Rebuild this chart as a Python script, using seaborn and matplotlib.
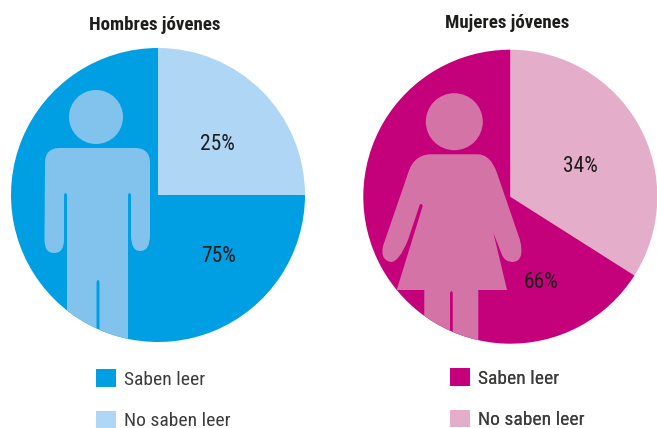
import seaborn as sns
import matplotlib.pyplot as plt
from matplotlib.patches import Circle, PathPatch, Patch
from matplotlib.path import Path

# Data
groups = ['Hombres jóvenes', 'Mujeres jóvenes']
labels = ['No saben leer', 'Saben leer']
hombres = [25, 75]
mujeres = [34, 66]

blue = sns.color_palette(['#AFD6F5', '#009FE3'])
pink = sns.color_palette(['#E4AECB', '#C4007A'])
ink = '#1D1D1B'

sns.set_theme(style='white')
plt.rcParams['font.family'] = ['Roboto Condensed', 'Liberation Sans', 'DejaVu Sans']


def icon_path(cmds):
    verts, codes = [], []
    for c in cmds:
        if c[0] == 'M':
            verts.append(c[1]); codes.append(Path.MOVETO)
        elif c[0] == 'L':
            verts.append(c[1]); codes.append(Path.LINETO)
        else:
            verts += [c[1], c[2]]; codes += [Path.CURVE3, Path.CURVE3]
    verts.append(verts[0]); codes.append(Path.CLOSEPOLY)
    return Path(verts, codes)


# Silhouettes, in pixels of the picture
man = [('M', (45, 163)), ('Q', (45, 148), (60, 148)), ('L', (135, 148)), ('Q', (150, 148), (150, 163)),
       ('L', (150, 235)), ('Q', (150, 251), (140, 251)), ('Q', (131, 251), (131, 235)), ('L', (131, 196)),
       ('Q', (131, 193), (129.5, 193)), ('Q', (128, 193), (128, 196)), ('L', (128, 345)), ('L', (99.5, 345)),
       ('L', (99.5, 283)), ('Q', (99.5, 280), (98, 280)), ('Q', (96.5, 280), (96.5, 283)), ('L', (96.5, 345)),
       ('L', (67, 345)), ('L', (67, 196)), ('Q', (67, 193), (65.5, 193)), ('Q', (64, 193), (64, 196)),
       ('L', (64, 240)), ('Q', (64, 253), (54, 253)), ('Q', (44.5, 253), (44.5, 240))]

woman = [('M', (430, 154.3)), ('L', (478, 154.3)), ('Q', (491, 155), (497, 173)), ('L', (520, 240)),
         ('Q', (525, 261), (513, 262)), ('Q', (505, 262), (502, 255)), ('L', (483, 206)),
         ('Q', (483.5, 203), (485, 203.5)), ('Q', (486.5, 204), (487, 206)), ('L', (507, 290)), ('L', (478.3, 290)),
         ('L', (478.3, 345)), ('L', (452.8, 345)), ('L', (452.8, 293)), ('Q', (451.4, 289), (450, 293)),
         ('L', (450, 345)), ('L', (424.3, 345)), ('L', (424.3, 290)), ('L', (396.7, 290)), ('L', (422.7, 206)),
         ('Q', (422.5, 204), (421, 204)), ('Q', (419.5, 204), (419, 207)), ('L', (408, 240)),
         ('Q', (399, 262), (391, 262)), ('Q', (380, 260), (383, 246)), ('L', (408.5, 172)),
         ('Q', (414, 155), (430, 154.3))]

fig = plt.figure(figsize=(6.57, 4.28), dpi=100)
ax = fig.add_axes([0, 0, 1, 1])

charts = [
    dict(vals=hombres, cols=blue, c=(158, 195), icon=man, head=(96, 117, 27), icol='#82C3EE',
         title=(155, 25), pct=[(217.5, 144), (219, 256)], leg=(96, 369)),
    dict(vals=mujeres, cols=pink, c=(510.3, 196.7), icon=woman, head=(454.3, 121.7, 28.5), icol='#D474A6',
         title=(506.7, 23), pct=[(580, 166), (540.7, 282)], leg=(450, 368)),
]

for name, ch in zip(groups, charts):
    # y axis runs downwards, so -90 is the top and ccw shows as clockwise
    wedges, _ = ax.pie(ch['vals'], colors=ch['cols'], center=ch['c'], radius=147, startangle=-90,
                       counterclock=True, wedgeprops={'linewidth': 0})
    clip = Circle(ch['c'], 147, transform=ax.transData)
    body = PathPatch(icon_path(ch['icon']), fc=ch['icol'], lw=0, zorder=2)
    ax.add_patch(body)
    body.set_clip_path(clip)
    hx, hy, hr = ch['head']
    ax.add_patch(Circle((hx, hy), hr, fc=ch['icol'], lw=0, zorder=2))

    ax.text(*ch['title'], name, ha='center', va='center', fontsize=13.6, fontweight='bold', color=ink, zorder=3)
    for v, pos in zip(ch['vals'], ch['pct']):
        ax.text(*pos, f'{v}%', ha='center', va='center', fontsize=15.5, color=ink, zorder=3)

    handles = [Patch(fc=ch['cols'][1], lw=0), Patch(fc=ch['cols'][0], lw=0)]
    leg = ax.legend(handles, [labels[1], labels[0]], loc='upper left', bbox_to_anchor=ch['leg'],
                    bbox_transform=ax.transData, frameon=False, fontsize=14, borderpad=0, borderaxespad=0,
                    handlelength=1.03, handleheight=1.03, handletextpad=0.41, labelspacing=1.13,
                    labelcolor='#3C3C3B')
    ax.add_artist(leg)

ax.set_aspect('auto')
ax.set_xlim(0, 657)
ax.set_ylim(428, 0)
ax.axis('off')

fig.savefig('out.png', dpi=100)
